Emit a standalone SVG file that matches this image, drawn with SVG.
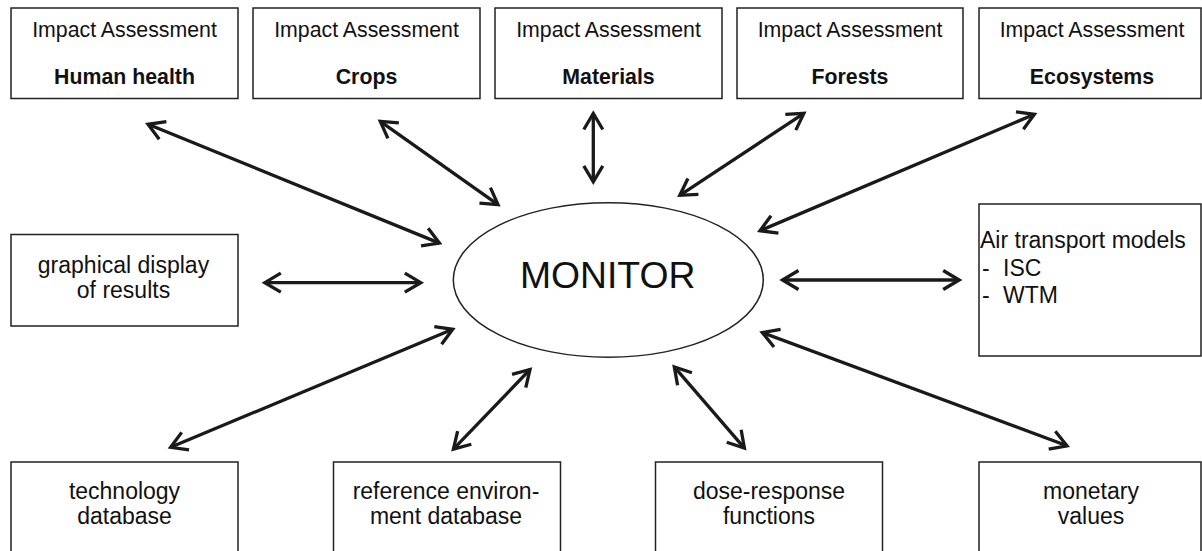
<svg xmlns="http://www.w3.org/2000/svg" width="1202" height="551" viewBox="0 0 1202 551">
<style>
.box{fill:#fff;stroke:#222;stroke-width:1.5}
.t{font-family:"Liberation Sans",Arial,sans-serif;fill:#111}
.ia{font-size:21.3px;text-anchor:middle}
.ib{font-size:21.3px;font-weight:bold;text-anchor:middle}
.bt{font-size:23px;text-anchor:middle}
.lt{font-size:23px}
.arr{fill:none;stroke:#1a1a1a;stroke-width:3.3;marker-start:url(#ah);marker-end:url(#ah)}
</style>
<defs>
<marker id="ah" markerUnits="userSpaceOnUse" markerWidth="40" markerHeight="40" viewBox="-20 -20 40 40" refX="0" refY="0" orient="auto-start-reverse">
<path d="M-16,-9.5 L0,0 L-16,9.5" fill="none" stroke="#1a1a1a" stroke-width="3.3"/>
</marker>
</defs>
<rect width="1202" height="551" fill="#fff"/>

<g id="ia-human">
<rect class="box" x="11" y="8" width="227" height="90.5"/>
<text class="t ia" x="124.5" y="36.5">Impact Assessment</text>
<text class="t ib" x="124.5" y="84">Human health</text>
</g>
<g id="ia-crops">
<rect class="box" x="253" y="8" width="227" height="90.5"/>
<text class="t ia" x="366.5" y="36.5">Impact Assessment</text>
<text class="t ib" x="366.5" y="84">Crops</text>
</g>
<g id="ia-materials">
<rect class="box" x="495" y="8" width="227" height="90.5"/>
<text class="t ia" x="608.5" y="36.5">Impact Assessment</text>
<text class="t ib" x="608.5" y="84">Materials</text>
</g>
<g id="ia-forests">
<rect class="box" x="737" y="8" width="226" height="90.5"/>
<text class="t ia" x="850" y="36.5">Impact Assessment</text>
<text class="t ib" x="850" y="84">Forests</text>
</g>
<g id="ia-ecosystems">
<rect class="box" x="979" y="8" width="222" height="90.5"/>
<text class="t ia" x="1092" y="36.5">Impact Assessment</text>
<text class="t ib" x="1092" y="84">Ecosystems</text>
</g>

<g id="graphical">
<rect class="box" x="11" y="234.5" width="227" height="91.5"/>
<text class="t bt" x="123.5" y="273">graphical display</text>
<text class="t bt" x="123.5" y="298">of results</text>
</g>

<g id="monitor">
<ellipse cx="608.3" cy="280" rx="155" ry="77.3" fill="#fff" stroke="#222" stroke-width="1.5"/>
<text class="t" x="607.7" y="288.3" font-size="37.3" text-anchor="middle">MONITOR</text>
</g>

<g id="air-transport">
<rect class="box" x="979" y="204" width="222" height="152"/>
<text class="t lt" x="980" y="248">Air transport models</text>
<text class="t lt" y="275.5"><tspan x="982">-</tspan><tspan x="1003">ISC</tspan></text>
<text class="t lt" y="302.5"><tspan x="982">-</tspan><tspan x="1003">WTM</tspan></text>
</g>

<g id="technology">
<rect class="box" x="11" y="462" width="227" height="100"/>
<text class="t bt" x="124.5" y="499">technology</text>
<text class="t bt" x="124.5" y="524">database</text>
</g>
<g id="reference">
<rect class="box" x="333.5" y="462" width="227" height="100"/>
<text class="t bt" x="446" y="498.5">reference environ-</text>
<text class="t bt" x="446" y="524">ment database</text>
</g>
<g id="dose-response">
<rect class="box" x="655.5" y="462" width="227" height="100"/>
<text class="t bt" x="769" y="498.5">dose-response</text>
<text class="t bt" x="769" y="524">functions</text>
</g>
<g id="monetary">
<rect class="box" x="979" y="462" width="222" height="100"/>
<text class="t bt" x="1091" y="498.5">monetary</text>
<text class="t bt" x="1091" y="524">values</text>
</g>

<g id="connectors">
<line class="arr" x1="148" y1="124.3" x2="439.4" y2="243.1"/>
<line class="arr" x1="380.3" y1="121.4" x2="498" y2="204.6"/>
<line class="arr" x1="593.3" y1="113.5" x2="593.3" y2="181.8"/>
<line class="arr" x1="803.9" y1="113.4" x2="679.8" y2="195.3"/>
<line class="arr" x1="1034.4" y1="114.3" x2="760" y2="230.7"/>
<line class="arr" x1="264.8" y1="282.7" x2="420.8" y2="282.7"/>
<line class="arr" x1="782.5" y1="280" x2="959.2" y2="280"/>
<line class="arr" x1="170.6" y1="447.3" x2="452.7" y2="329.3"/>
<line class="arr" x1="453.4" y1="449.2" x2="530" y2="369.5"/>
<line class="arr" x1="674.3" y1="366.9" x2="744.4" y2="448.1"/>
<line class="arr" x1="762.3" y1="332.6" x2="1067" y2="445.8"/>
</g>
</svg>
